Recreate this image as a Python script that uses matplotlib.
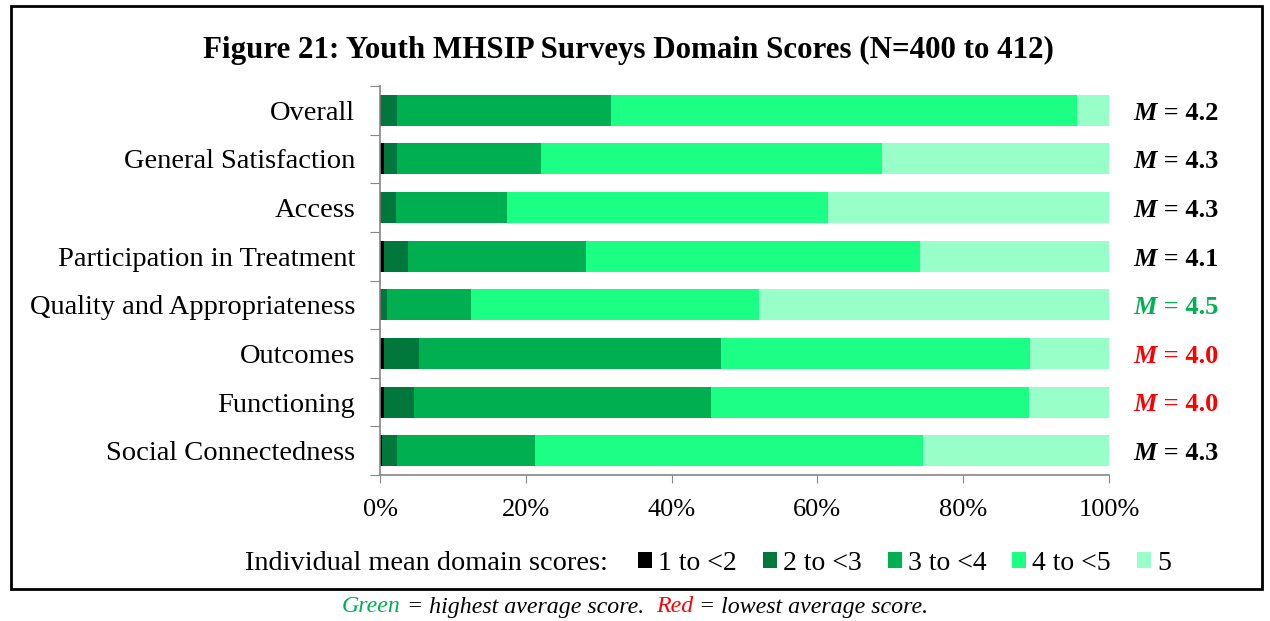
import matplotlib.pyplot as plt
from matplotlib.patches import Rectangle
import numpy as np

plt.rcParams['font.family'] = ['Liberation Serif', 'DejaVu Serif']

categories = ['Overall', 'General Satisfaction', 'Access', 'Participation in Treatment',
              'Quality and Appropriateness', 'Outcomes', 'Functioning', 'Social Connectedness']
series_names = ['1 to <2', '2 to <3', '3 to <4', '4 to <5', '5']
s1 = [0.2, 0.6, 0.2, 0.5, 0.1, 0.5, 0.5, 0.3]
s2 = [2.1, 1.8, 2.0, 3.4, 0.8, 4.8, 4.1, 2.1]
s3 = [29.4, 19.7, 15.2, 24.4, 11.6, 41.5, 40.8, 18.9]
s4 = [63.9, 46.8, 44.1, 45.8, 39.5, 42.4, 43.6, 53.2]
s5 = [4.4, 31.1, 38.5, 25.9, 48.0, 10.8, 11.0, 25.5]
means = ['4.2', '4.3', '4.3', '4.1', '4.5', '4.0', '4.0', '4.3']
mean_colors = ['black', 'black', 'black', 'black', '#00B050', '#FF0000', '#FF0000', 'black']

colors = ['#000000', '#00783C', '#00B050', '#1AFF84', '#99FFC8']


def main():
    fig = plt.figure(figsize=(12.7, 6.21), dpi=100)
    ax = fig.add_axes([380 / 1270, 1 - 475 / 621, 729 / 1270, 389 / 621])

    y = np.arange(len(categories))
    left = np.zeros(len(categories))
    for vals, col, name in zip([s1, s2, s3, s4, s5], colors, series_names):
        ax.barh(y, vals, left=left, height=0.64, color=col, label=name)
        left += np.array(vals)

    ax.set_xlim(0, 100)
    ax.set_ylim(len(categories) - 0.5, -0.5)
    ax.set_xticks(np.arange(0, 101, 20))
    ax.set_xticklabels(['{}%'.format(v) for v in range(0, 101, 20)], fontsize=19)
    ax.set_yticks(np.arange(-0.5, len(categories), 1))
    ax.set_yticklabels([])
    ax.set_yticks(y, minor=True)
    ax.set_yticklabels(categories, minor=True, fontsize=20.5)
    ax.tick_params(axis='y', which='minor', length=0, pad=18)
    ax.tick_params(axis='y', which='major', length=7, color='#868686', direction='out')
    ax.tick_params(axis='x', length=6, color='#868686', pad=11)
    for side in ['top', 'right']:
        ax.spines[side].set_visible(False)
    for side in ['left', 'bottom']:
        ax.spines[side].set_color('#868686')
        ax.spines[side].set_linewidth(1.2)

    # mean labels
    for i, (m, c) in enumerate(zip(means, mean_colors)):
        t = ax.text(103.3, i + 0.06, 'M', fontsize=19, fontweight='bold', style='italic',
                    color=c, va='center', ha='left')
        ax.annotate(' = ' + m, xy=(1, 0.5), xycoords=t, va='center', ha='left',
                    fontsize=19, fontweight='bold', color=c)

    fig.text(0.4945, 1 - 50 / 621, 'Figure 21: Youth MHSIP Surveys Domain Scores (N=400 to 412)',
             ha='center', va='center', fontsize=22.3, fontweight='bold')

    # legend
    fig.text(245 / 1270, 1 - 563 / 621, 'Individual mean domain scores:', fontsize=20.4,
             ha='left', va='center')
    handles, labels = ax.get_legend_handles_labels()
    fig.legend(handles, labels, ncol=5, loc='center left',
               bbox_to_anchor=(638 / 1270, 1 - 563 / 621), frameon=False, fontsize=20,
               borderpad=0, borderaxespad=0,
               handlelength=0.5, handleheight=0.5, handletextpad=0.22, columnspacing=0.94)

    # border
    fig.patches.append(Rectangle((11 / 1270, 1 - 589 / 621), 1251 / 1270, 583 / 621,
                                 transform=fig.transFigure, fill=False, edgecolor='black',
                                 linewidth=2))

    # footer
    t1 = fig.text(342 / 1270, 1 - 607 / 621, 'Green', color='#00B050', fontsize=17.2,
                  style='italic', ha='left', va='center')
    t2 = plt.annotate(' = highest average score.  ', xy=(1, 0.5), xycoords=t1, va='center',
                      ha='left', fontsize=17.2, style='italic', annotation_clip=False)
    t3 = plt.annotate('Red', xy=(1, 0.5), xycoords=t2, va='center', ha='left', fontsize=17.2,
                      style='italic', color='#FF0000', annotation_clip=False)
    plt.annotate(' = lowest average score.', xy=(1, 0.5), xycoords=t3, va='center',
                 ha='left', fontsize=17.2, style='italic', annotation_clip=False)

    fig.savefig('out.png', dpi=100)


if __name__ == '__main__':
    main()
